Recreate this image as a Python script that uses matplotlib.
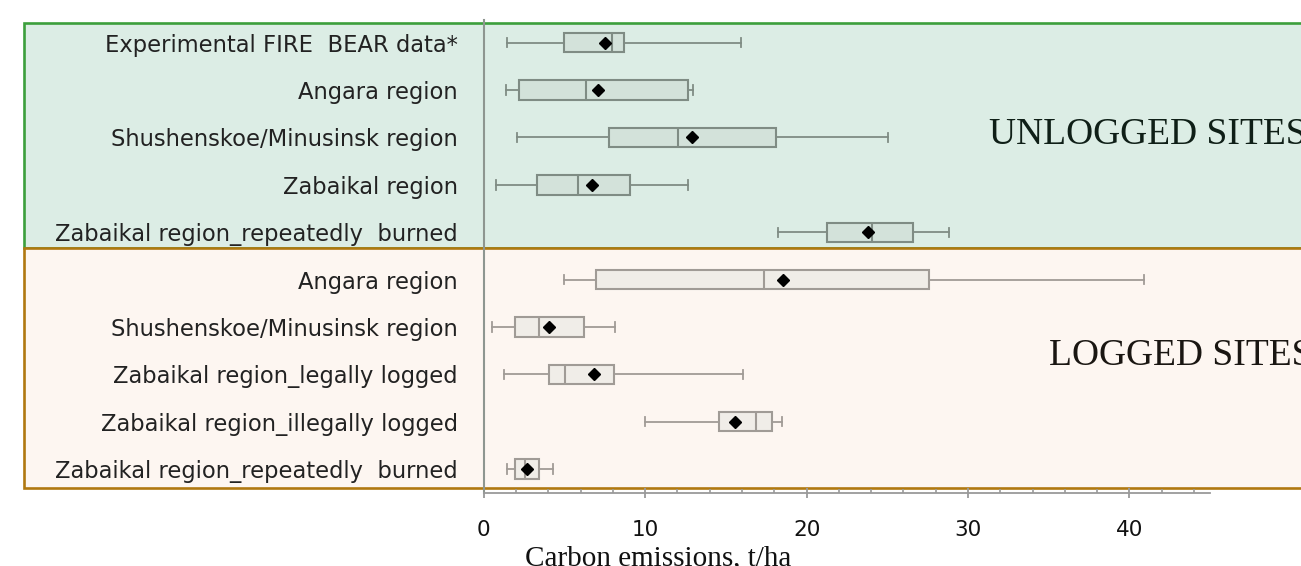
import numpy as np
import matplotlib
matplotlib.use("Agg")
import matplotlib.pyplot as plt
from matplotlib.patches import Rectangle

# ---------------- data ----------------
categories = [
    "Experimental FIRE  BEAR data*",
    "Angara region",
    "Shushenskoe/Minusinsk region",
    "Zabaikal region",
    "Zabaikal region_repeatedly  burned",
    "Angara region",
    "Shushenskoe/Minusinsk region",
    "Zabaikal region_legally logged",
    "Zabaikal region_illegally logged",
    "Zabaikal region_repeatedly  burned",
]
groups = ["UNLOGGED SITES"] * 5 + ["LOGGED SITES"] * 5

whislo = [1.46, 1.36, 2.08, 0.74, 18.23, 4.99, 0.51, 1.23, 9.97, 1.46]
q1 = [4.99, 2.20, 7.78, 3.30, 21.24, 6.93, 1.95, 4.02, 14.57, 1.95]
med = [7.92, 6.33, 12.03, 5.84, 24.06, 17.36, 3.40, 5.00, 16.88, 2.57]
q3 = [8.67, 12.67, 18.10, 9.04, 26.61, 27.58, 6.23, 8.05, 17.87, 3.44]
whishi = [15.92, 12.98, 25.02, 12.65, 28.80, 40.90, 8.15, 16.04, 18.49, 4.27]
means = [7.51, 7.06, 12.88, 6.70, 23.79, 18.56, 4.02, 6.81, 15.56, 2.70]

x_major = [0, 10, 20, 30, 40]
x_label = "Carbon emissions, t/ha"

# ---------------- layout ----------------
W, H = 1301, 566
fig = plt.figure(figsize=(W / 100, H / 100), dpi=100)
fig.patch.set_facecolor("white")

x0_px, px_per_unit = 483.8, 16.14
top_px, bot_px = 20.0, 493.3
ax = fig.add_axes([x0_px / W, (H - bot_px) / H, (W - x0_px) / W, (bot_px - top_px) / H])
ax.set_facecolor("none")
ax.set_xlim(0, (W - x0_px) / px_per_unit)
ax.set_ylim(9.51, -0.48)

# group background frames (figure coordinates)
frames = [
    (23.3, 247.7, "#dcede5", "#3c9f3c"),
    (247.7, 487.7, "#fdf6f1", "#b07810"),
]
for ytop, ybot, fc, ec in frames:
    fig.patches.append(Rectangle((24 / W, (H - ybot) / H), 1.2, (ybot - ytop) / H,
                                 transform=fig.transFigure, facecolor=fc,
                                 edgecolor=ec, linewidth=1.9, zorder=-1))

# ---------------- boxes ----------------
styles = {
    "UNLOGGED SITES": dict(fill="#d3e2da", edge="#7f8c84"),
    "LOGGED SITES": dict(fill="#f0ede8", edge="#a09b96"),
}
positions = np.arange(len(categories))
for g, st in styles.items():
    idx = [i for i, gg in enumerate(groups) if gg == g]
    stats = [dict(whislo=whislo[i], q1=q1[i], med=med[i], q3=q3[i],
                  whishi=whishi[i], mean=means[i], fliers=[]) for i in idx]
    ax.bxp(stats, positions=positions[idx], orientation="horizontal",
           widths=0.41, capwidths=0.2, showmeans=True, patch_artist=True,
           boxprops=dict(facecolor=st["fill"], edgecolor=st["edge"], linewidth=1.5),
           medianprops=dict(color=st["edge"], linewidth=1.5),
           whiskerprops=dict(color=st["edge"], linewidth=1.3),
           capprops=dict(color=st["edge"], linewidth=1.3),
           meanprops=dict(marker="D", markerfacecolor="black",
                          markeredgecolor="black", markersize=6.5))

# ---------------- axes styling ----------------
for s in ["top", "right"]:
    ax.spines[s].set_visible(False)
ax.spines["left"].set_color("#8e9690")
ax.spines["left"].set_linewidth(1.5)
ax.spines["bottom"].set_color("#9a9a9a")
ax.spines["bottom"].set_linewidth(1.3)
ax.spines["bottom"].set_bounds(0, 45)

ax.set_yticks(positions, categories)
ax.tick_params(axis="y", length=0, pad=18.6, labelsize=16.3, labelcolor="#222222")
for lbl in ax.get_yticklabels():
    lbl.set_fontfamily("DejaVu Sans")

ax.set_xticks(x_major, [str(v) for v in x_major])
ax.set_xticks(np.arange(2, 45, 2), minor=True)
ax.tick_params(axis="x", which="major", direction="inout", length=7.2, width=1.3,
               color="#9a9a9a", labelsize=15.5, pad=15.5, labelcolor="#111111")
ax.tick_params(axis="x", which="minor", direction="in", length=3, width=1.2,
               color="#9a9a9a")

# group titles
fig.text(989 / W, (H - 144) / H, "UNLOGGED SITES", family="Liberation Serif",
         fontsize=27, color="#0f1f17", ha="left", va="baseline")
fig.text(1049 / W, (H - 365) / H, "LOGGED SITES", family="Liberation Serif",
         fontsize=27, color="#1a1612", ha="left", va="baseline")

# x axis label
fig.text(658 / W, (H - 565) / H, x_label, family="Liberation Serif",
         fontsize=21, color="#111111", ha="center", va="baseline")

fig.savefig("out.png", dpi=100)
